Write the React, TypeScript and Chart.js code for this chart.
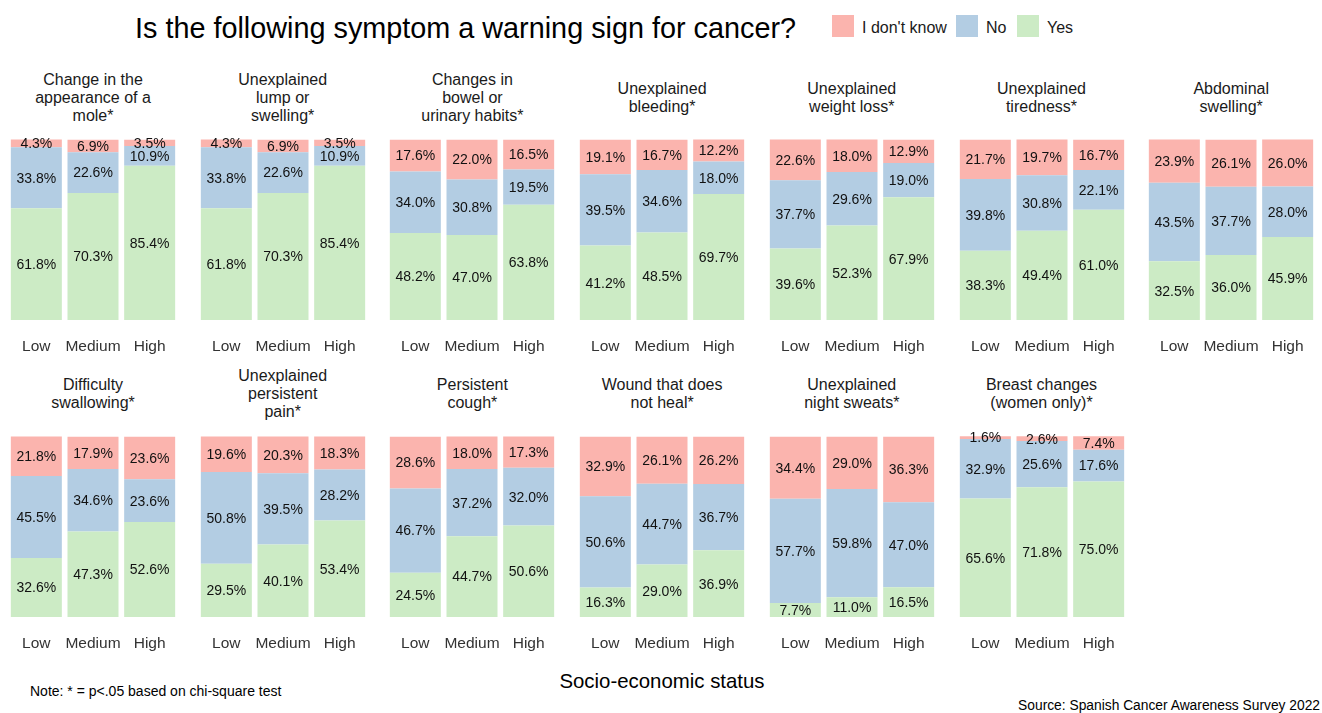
import React, { useEffect, useRef } from "react";
import { Chart, registerables } from "chart.js";
Chart.register(...registerables);

const groups = ["Low", "Medium", "High"];
const seriesNames = ["I don't know", "No", "Yes"];
const seriesColors = ["#FBB4AE", "#B3CDE3", "#CCEBC5"];

const panelTitles: string[][] = [
  ["Change in the", "appearance of a", "mole*"],
  ["Unexplained", "lump or", "swelling*"],
  ["Changes in", "bowel or", "urinary habits*"],
  ["Unexplained", "bleeding*"],
  ["Unexplained", "weight loss*"],
  ["Unexplained", "tiredness*"],
  ["Abdominal", "swelling*"],
  ["Difficulty", "swallowing*"],
  ["Unexplained", "persistent", "pain*"],
  ["Persistent", "cough*"],
  ["Wound that does", "not heal*"],
  ["Unexplained", "night sweats*"],
  ["Breast changes", "(women only)*"],
];

const yesValues: number[][] = [
  [61.8, 70.3, 85.4],
  [61.8, 70.3, 85.4],
  [48.2, 47.0, 63.8],
  [41.2, 48.5, 69.7],
  [39.6, 52.3, 67.9],
  [38.3, 49.4, 61.0],
  [32.5, 36.0, 45.9],
  [32.6, 47.3, 52.6],
  [29.5, 40.1, 53.4],
  [24.5, 44.7, 50.6],
  [16.3, 29.0, 36.9],
  [7.7, 11.0, 16.5],
  [65.6, 71.8, 75.0],
];

const noValues: number[][] = [
  [33.8, 22.6, 10.9],
  [33.8, 22.6, 10.9],
  [34.0, 30.8, 19.5],
  [39.5, 34.6, 18.0],
  [37.7, 29.6, 19.0],
  [39.8, 30.8, 22.1],
  [43.5, 37.7, 28.0],
  [45.5, 34.6, 23.6],
  [50.8, 39.5, 28.2],
  [46.7, 37.2, 32.0],
  [50.6, 44.7, 36.7],
  [57.7, 59.8, 47.0],
  [32.9, 25.6, 17.6],
];

const idkValues: number[][] = [
  [4.3, 6.9, 3.5],
  [4.3, 6.9, 3.5],
  [17.6, 22.0, 16.5],
  [19.1, 16.7, 12.2],
  [22.6, 18.0, 12.9],
  [21.7, 19.7, 16.7],
  [23.9, 26.1, 26.0],
  [21.8, 17.9, 23.6],
  [19.6, 20.3, 18.3],
  [28.6, 18.0, 17.3],
  [32.9, 26.1, 26.2],
  [34.4, 29.0, 36.3],
  [1.6, 2.6, 7.4],
];

const FONT = "'Liberation Sans', Arial, Helvetica, sans-serif";

const PANEL_PITCH = 189.7;
const PANEL_LEFT = 8;
const PANEL_W = 170;
const ROW_PITCH = 297;
const CANVAS_TOP = 131;
const PAD_TOP = 8;
const AXIS_H = 40;
const PLOT_H = 181;
const CANVAS_H = PAD_TOP + PLOT_H + AXIS_H;

const labelPlugin = {
  id: "segLabels",
  afterDatasetsDraw(chart: any) {
    const ctx = chart.ctx;
    ctx.save();
    ctx.font = "14px " + FONT;
    ctx.fillStyle = "#111111";
    ctx.textAlign = "center";
    ctx.textBaseline = "middle";
    chart.data.datasets.forEach((ds: any, di: number) => {
      const meta = chart.getDatasetMeta(di);
      meta.data.forEach((bar: any, i: number) => {
        const p = bar.getProps(["x", "y", "base"], true);
        ctx.fillText(Number(ds.data[i]).toFixed(1) + "%", p.x, (p.y + p.base) / 2 + 1);
      });
    });
    ctx.restore();
  },
};

function Panel({ index }: { index: number }) {
  const ref = useRef<HTMLCanvasElement | null>(null);
  useEffect(() => {
    if (!ref.current) return;
    const chart = new Chart(ref.current, {
      type: "bar",
      data: {
        labels: groups,
        datasets: [
          { label: seriesNames[2], data: yesValues[index], backgroundColor: seriesColors[2] },
          { label: seriesNames[1], data: noValues[index], backgroundColor: seriesColors[1] },
          { label: seriesNames[0], data: idkValues[index], backgroundColor: seriesColors[0] },
        ],
      },
      options: {
        animation: false,
        responsive: false,
        maintainAspectRatio: false,
        layout: { padding: { top: PAD_TOP, bottom: 0, left: 0, right: 0 } },
        datasets: { bar: { barPercentage: 0.9, categoryPercentage: 1, borderWidth: 0 } },
        plugins: { legend: { display: false }, tooltip: { enabled: false }, title: { display: false } },
        scales: {
          x: {
            stacked: true,
            grid: { display: false, drawTicks: false },
            border: { display: false },
            ticks: {
              font: { size: 15.5, family: FONT },
              color: "#333333",
              padding: 17,
              maxRotation: 0,
              minRotation: 0,
              autoSkip: false,
            },
            afterFit: (scale: any) => {
              scale.height = AXIS_H;
              scale.paddingLeft = 0;
              scale.paddingRight = 0;
            },
          },
          y: { stacked: true, display: false, min: 0, max: 100.2 },
        },
      } as any,
      plugins: [labelPlugin],
    });
    return () => chart.destroy();
  }, [index]);
  const row = index < 7 ? 0 : 1;
  const col = index < 7 ? index : index - 7;
  return (
    <canvas
      ref={ref}
      width={PANEL_W}
      height={CANVAS_H}
      style={{
        position: "absolute",
        left: PANEL_LEFT + col * PANEL_PITCH,
        top: CANVAS_TOP + row * ROW_PITCH,
        width: PANEL_W,
        height: CANVAS_H,
      }}
    />
  );
}

export default function App() {
  return (
    <div
      style={{
        position: "absolute",
        left: 0,
        top: 0,
        width: 1322,
        height: 713,
        background: "#ffffff",
        fontFamily: FONT,
        overflow: "hidden",
      }}
    >
      <div
        style={{
          position: "absolute",
          left: 135,
          top: 11,
          fontSize: 28.8,
          color: "#000",
          whiteSpace: "nowrap",
          lineHeight: "34px",
        }}
      >
        Is the following symptom a warning sign for cancer?
      </div>
      {seriesNames.map((n, i) => {
        const boxLeft = [832, 956, 1017][i];
        return (
          <React.Fragment key={n}>
            <div
              style={{
                position: "absolute",
                left: boxLeft,
                top: 15,
                width: 22,
                height: 22,
                background: seriesColors[i],
              }}
            />
            <div
              style={{
                position: "absolute",
                left: boxLeft + 30,
                top: 18,
                fontSize: 16,
                lineHeight: "20px",
                color: "#1a1a1a",
                whiteSpace: "nowrap",
              }}
            >
              {n}
            </div>
          </React.Fragment>
        );
      })}
      {panelTitles.map((lines, i) => {
        const row = i < 7 ? 0 : 1;
        const col = i < 7 ? i : i - 7;
        const cx = PANEL_LEFT + col * PANEL_PITCH + PANEL_W / 2;
        const cy = 98 + row * 296;
        return (
          <div
            key={i}
            style={{
              position: "absolute",
              left: cx - 90,
              width: 180,
              top: cy - (lines.length * 18) / 2,
              textAlign: "center",
              fontSize: 16,
              lineHeight: "18px",
              color: "#1a1a1a",
            }}
          >
            {lines.map((l, j) => (
              <div key={j}>{l}</div>
            ))}
          </div>
        );
      })}
      {panelTitles.map((_, i) => (
        <Panel key={i} index={i} />
      ))}
      <div
        style={{
          position: "absolute",
          left: 462,
          width: 400,
          top: 668,
          textAlign: "center",
          fontSize: 20.4,
          lineHeight: "26px",
          color: "#000",
        }}
      >
        Socio-economic status
      </div>
      <div
        style={{
          position: "absolute",
          left: 30,
          top: 683,
          fontSize: 14,
          lineHeight: "16px",
          color: "#000",
          whiteSpace: "nowrap",
        }}
      >
        Note: * = p&lt;.05 based on chi-square test
      </div>
      <div
        style={{
          position: "absolute",
          right: 2,
          top: 698,
          fontSize: 13.8,
          lineHeight: "16px",
          color: "#000",
          whiteSpace: "nowrap",
        }}
      >
        Source: Spanish Cancer Awareness Survey 2022
      </div>
    </div>
  );
}
